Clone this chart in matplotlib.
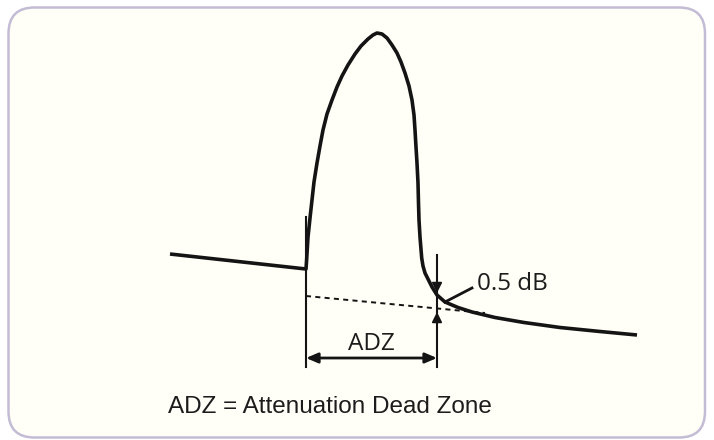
import matplotlib.pyplot as plt
from matplotlib.patches import FancyBboxPatch

# trace (pixel coordinates, y grows downwards)
trace_x = [170, 306, 306.5, 308, 310, 312, 314, 317, 320, 323, 327, 332, 337, 342,
           348, 355, 361, 368, 373, 377, 382, 387, 392, 397, 401, 405, 409, 412,
           414, 415, 416, 417, 418, 418.5, 419, 420, 421.7, 423, 425, 428, 432,
           437, 445, 458, 472, 495, 524, 560, 600, 637]
trace_y = [254, 269, 262, 237, 218, 200, 182, 163, 146, 130, 114, 100, 87, 76,
           65, 54, 46, 39, 35, 33, 34, 38, 45, 53, 62, 73, 86, 100,
           115, 130, 147, 163, 183, 203, 220, 237, 258, 266, 273, 279, 287,
           295, 302, 307.5, 312, 317.5, 322.5, 327.5, 331.5, 335]

# extrapolated backscatter (dashed)
extrap_x = [306, 485]
extrap_y = [296, 313]

# dead zone edges and the 0.5 dB points
adz_start = 306
adz_end = 437
adz_top = [217, 255]
adz_bottom = 367
adz_arrow_y = 358
db_curve_y = 293
db_extrap_y = 312

ink = '#141414'

fig = plt.figure(figsize=(7.14, 4.40), dpi=100)
fig.patch.set_facecolor('white')
ax = fig.add_axes([0, 0, 1, 1])
ax.set_xlim(0, 714)
ax.set_ylim(440, 0)
ax.axis('off')

# rounded panel
panel = FancyBboxPatch((8.5, 7.5), 696.5, 430, boxstyle='round,pad=0,rounding_size=26',
                       facecolor='#fffff7', edgecolor='#c4bcd4', linewidth=1.8)
ax.add_patch(panel)

# main trace
ax.plot(trace_x, trace_y, color=ink, linewidth=2.6, solid_capstyle='butt', solid_joinstyle='round')

# dashed extrapolation
ax.plot(extrap_x, extrap_y, color=ink, linewidth=1.4, linestyle=(0, (2.6, 2.2)))

# vertical markers
ax.plot([adz_start, adz_start], [adz_top[0], adz_bottom], color=ink, linewidth=1.5)
ax.plot([adz_end, adz_end], [adz_top[1], adz_bottom], color=ink, linewidth=1.5)

# ADZ dimension arrow
ax.annotate('', xy=(adz_end, adz_arrow_y), xytext=(adz_start, adz_arrow_y),
            arrowprops=dict(arrowstyle='<|-|>,head_length=0.7,head_width=0.3', color=ink,
                            linewidth=2.0, shrinkA=0, shrinkB=0))
ax.text((adz_start + adz_end) / 2, 350.5, 'ADZ', family='Open Sans', fontsize=17.5,
        color='#1c1c1c', ha='center', va='baseline')

# 0.5 dB markers
ax.annotate('', xy=(adz_end, db_curve_y), xytext=(adz_end, db_curve_y - 10),
            arrowprops=dict(arrowstyle='-|>,head_length=0.6,head_width=0.3', color=ink,
                            linewidth=1.3, shrinkA=0, shrinkB=0))
ax.annotate('', xy=(adz_end, db_extrap_y), xytext=(adz_end, db_extrap_y + 9),
            arrowprops=dict(arrowstyle='-|>,head_length=0.6,head_width=0.3', color=ink,
                            linewidth=1.3, shrinkA=0, shrinkB=0))
ax.plot([adz_end + 8, 472], [302, 288], color=ink, linewidth=2.0)
ax.text(477, 290, '0.5 dB', family='Open Sans', fontsize=17.5, color='#1c1c1c',
        ha='left', va='baseline')

# caption
ax.text(168, 413, 'ADZ = Attenuation Dead Zone', family='Liberation Sans', fontsize=17.5,
        color='#1c1c1c', ha='left', va='baseline')

fig.savefig('out.png', dpi=100)
